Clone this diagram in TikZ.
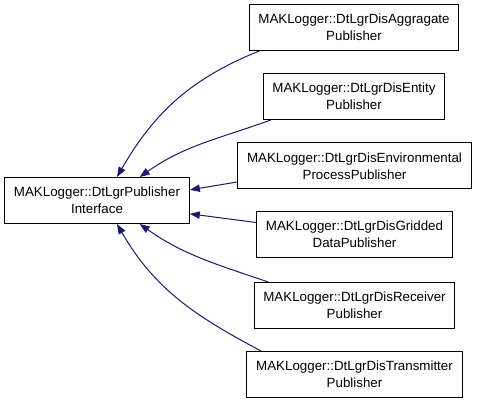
\documentclass[tikz,border=0pt]{standalone}
\usepackage{fontspec}
\setmainfont{Liberation Sans}
\usepackage{tikz}
\usetikzlibrary{arrows.meta}
\definecolor{edgeblue}{RGB}{25,25,112}

\begin{document}
\begin{tikzpicture}[
      x=0.75pt, y=0.75pt,
      cls/.style={draw, line width=0.75pt, fill=white, minimum height=34.5pt,
                  inner xsep=7pt, align=center,
                  font=\fontsize{10}{12.75}\selectfont},
      arr/.style={-{Triangle[length=7.5pt, width=5.5pt, fill=edgeblue]},
                  draw=edgeblue, line width=0.75pt}
  ]
    \useasboundingbox (0,0) rectangle (477,403);

    \node[cls] (base)  at (97,202.5)  {MAKLogger::DtLgrPublisher\\Interface};
    \node[cls] (agg)   at (354,375.5) {MAKLogger::DtLgrDisAggragate\\Publisher};
    \node[cls] (ent)   at (354,306.5) {MAKLogger::DtLgrDisEntity\\Publisher};
    \node[cls] (env)   at (354.5,237) {MAKLogger::DtLgrDisEnvironmental\\ProcessPublisher};
    \node[cls] (grid)  at (354.5,168.5) {MAKLogger::DtLgrDisGridded\\DataPublisher};
    \node[cls] (recv)  at (354.5,97.5) {MAKLogger::DtLgrDisReceiver\\Publisher};
    \node[cls] (trans) at (354.5,28.5) {MAKLogger::DtLgrDisTransmitter\\Publisher};

    \draw[arr] ([xshift=8pt]agg.south west) to[out=202, in=60] ([xshift=15pt]base.north);
    \draw[arr] ([xshift=6pt]ent.south west) to[out=200, in=35] ([xshift=32pt]base.north);
    \draw[arr] ([yshift=-12pt]env.west) -- ([yshift=8pt]base.east);
    \draw[arr] ([yshift=9pt]grid.west) -- ([yshift=-10pt]base.east);
    \draw[arr] ([xshift=11pt]recv.north west) to[out=161, in=-35] ([xshift=32pt]base.south);
    \draw[arr] ([xshift=11pt]trans.north west) to[out=152, in=-60] ([xshift=15pt]base.south);
  \end{tikzpicture}
\end{document}
